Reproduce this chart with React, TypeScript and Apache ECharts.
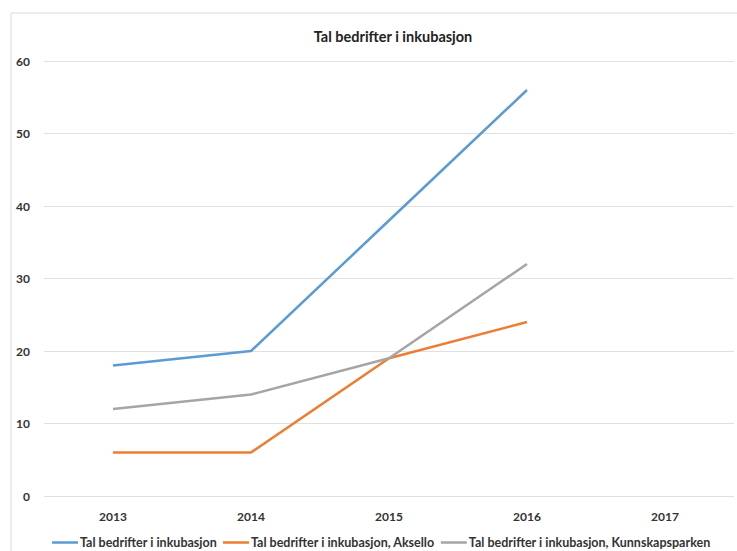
import React, { useEffect, useRef } from "react";
import * as echarts from "echarts";

const categories = ["2013", "2014", "2015", "2016", "2017"];
const seriesNames = [
  "Tal bedrifter i inkubasjon",
  "Tal bedrifter i inkubasjon, Aksello",
  "Tal bedrifter i inkubasjon, Kunnskapsparken",
];
const totalValues = [18, 20, 38, 56, null];
const akselloValues = [6, 6, 19, 24, null];
const kunnskapsparkenValues = [12, 14, 19, 32, null];
const colors = ["#5b9bd5", "#ed7d31", "#a5a5a5"];

const FONT = "Lato, 'Open Sans', sans-serif";

export default function App() {
  const ref = useRef<HTMLDivElement>(null);
  useEffect(() => {
    if (!ref.current) return;
    const chart = echarts.init(ref.current, undefined, { renderer: "svg" });
    const data = [totalValues, akselloValues, kunnskapsparkenValues];
    chart.setOption({
      animation: false,
      backgroundColor: "#ffffff",
      textStyle: { fontFamily: FONT },
      title: {
        text: "Tal bedrifter i inkubasjon",
        left: 388,
        top: 24,
        textAlign: "center",
        textStyle: { fontSize: 14.5, fontWeight: "bold", color: "#222", fontFamily: FONT },
      },
      graphic: [
        {
          type: "rect",
          shape: { x: 11, y: 13, width: 740, height: 560 },
          style: { fill: "none", stroke: "#d9d9d9", lineWidth: 1 },
          silent: true,
        },
      ],
      legend: {
        top: 536,
        left: 52,
        padding: 0,
        itemWidth: 26,
        itemHeight: 2.5,
        itemGap: 6,
        icon: "rect",
        textStyle: { fontSize: 12.5, fontWeight: "bold", color: "#333", fontFamily: FONT, padding: [0, 0, 0, -3] },
        data: seriesNames,
      },
      grid: { left: 44, right: 3, top: 61, bottom: 55 },
      xAxis: {
        type: "category",
        data: categories,
        boundaryGap: true,
        axisLine: { show: false },
        axisTick: { show: false },
        axisLabel: { fontSize: 12, fontWeight: "bold", color: "#333", margin: 14, fontFamily: FONT },
      },
      yAxis: {
        type: "value",
        min: 0,
        max: 60,
        interval: 10,
        axisLine: { show: false },
        axisTick: { show: false },
        splitLine: { lineStyle: { color: "#e0e0e0", width: 1 } },
        axisLabel: { fontSize: 12, fontWeight: "bold", color: "#333", margin: 14, fontFamily: FONT },
      },
      series: seriesNames.map((name, i) => ({
        name,
        type: "line",
        data: data[i],
        symbol: "none",
        color: colors[i],
        lineStyle: { width: 2.5, color: colors[i] },
      })),
    });
    return () => chart.dispose();
  }, []);
  return (
    <div
      ref={ref}
      style={{ position: "absolute", left: 0, top: 0, width: 737, height: 551 }}
    />
  );
}
